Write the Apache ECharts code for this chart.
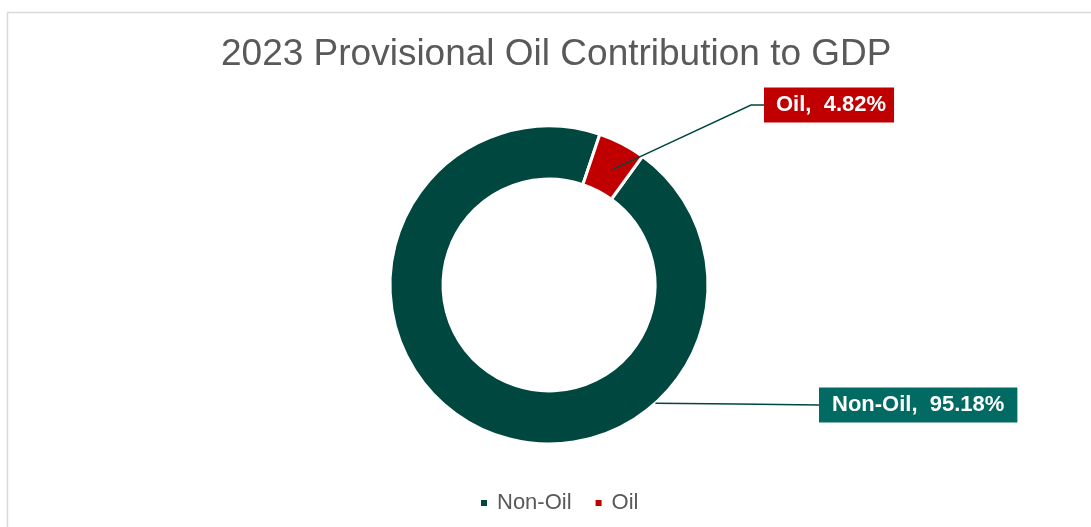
<!DOCTYPE html>
<html>
<head>
<meta charset="utf-8">
<script src="https://cdn.jsdelivr.net/npm/echarts@6/dist/echarts.min.js"></script>
<style>
html,body{margin:0;padding:0;background:#fff;}
#chart{width:1091px;height:527px;}
</style>
</head>
<body>
<div id="chart"></div>
<script>
const categories = ['Non-Oil', 'Oil'];
const values = [95.18, 4.82];
const sliceColors = ['#00473F', '#C00000'];
const labelColors = ['#006A63', '#C00000'];

const CX = 549, CY = 285, R_IN = 106, R_OUT = 159;
const START = 54; // echarts startAngle (deg, ccw from 3 o'clock)

const total = values.reduce((a, b) => a + b, 0);
function clockFromTop(idx, frac) {
  let acc = 0;
  for (let i = 0; i < idx; i++) acc += values[i];
  return (90 - START) + 360 * (acc + values[idx] * frac) / total;
}
function pt(angDeg, r) {
  const a = angDeg * Math.PI / 180;
  return [CX + r * Math.sin(a), CY - r * Math.cos(a)];
}

const FONT = 'Liberation Sans, Arial, sans-serif';
const chart = echarts.init(document.getElementById('chart'));
chart.setOption({
  animation: false,
  backgroundColor: '#fff',
  graphic: [{
    type: 'rect', silent: true, z: -10,
    shape: { x: 7.5, y: 12.5, width: 2000, height: 2000 },
    style: { fill: 'none', stroke: '#d9d9d9', lineWidth: 1.5 }
  }],
  title: {
    text: '2023 Provisional Oil Contribution to GDP',
    left: 216,
    top: 31,
    textStyle: { fontFamily: FONT, fontSize: 37, fontWeight: 'normal', color: '#595959' }
  },
  legend: {
    data: categories.map((n, i) => ({ name: n, itemStyle: { color: sliceColors[i] } })),
    left: 474,
    top: 487,
    icon: 'rect',
    itemWidth: 8,
    itemHeight: 8,
    itemGap: 22,
    textStyle: { fontFamily: FONT, fontSize: 22, color: '#595959', padding: [0, 0, 0, 4] }
  },
  series: [{
    type: 'pie',
    z: 2,
    center: [CX, CY],
    radius: [R_IN, R_OUT],
    startAngle: START,
    clockwise: true,
    itemStyle: { borderColor: '#fff', borderWidth: 3 },
    label: { show: false },
    labelLine: { show: false },
    emphasis: { disabled: true },
    data: categories.map((n, i) => ({
      name: n,
      value: values[i],
      itemStyle: { color: sliceColors[i] }
    }))
  }, {
    type: 'pie',
    z: 5,
    silent: true,
    legendHoverLink: false,
    center: [CX, CY],
    radius: [R_IN, R_OUT],
    startAngle: START,
    clockwise: true,
    itemStyle: { color: 'rgba(0,0,0,0)', borderWidth: 0 },
    label: {
      show: true,
      position: 'outside',
      formatter: p => p.name + ',  ' + p.value.toFixed(2) + '%',
      color: '#fff',
      fontFamily: FONT,
      fontSize: 22,
      fontWeight: 'bold',
      padding: [7, 8, 6, 12]
    },
    labelLine: { show: true, showAbove: true, lineStyle: { color: '#00473F', width: 1.5 } },
    emphasis: { disabled: true },
    labelLayout: function (p) {
      if (p.dataIndex === 1) {
        const lx = CX + 215, ly = CY - 180;
        const p0 = pt(clockFromTop(1, 0.6), (R_IN + R_OUT) / 2);
        return { x: lx, y: ly, align: 'left', verticalAlign: 'middle',
          labelLinePoints: [p0, [lx - 13, ly], [lx, ly]] };
      } else {
        const lx = CX + 270, ly = CY + 120;
        const p0 = pt(138, R_OUT);
        return { x: lx, y: ly, align: 'left', verticalAlign: 'middle',
          labelLinePoints: [p0, [(p0[0] + lx) / 2, (p0[1] + ly) / 2], [lx, ly]] };
      }
    },
    data: categories.map((n, i) => ({
      name: n,
      value: values[i],
      label: { backgroundColor: labelColors[i], padding: i === 0 ? [7, 13, 6, 13] : [7, 8, 6, 12] }
    }))
  }]
});
</script>
</body>
</html>
